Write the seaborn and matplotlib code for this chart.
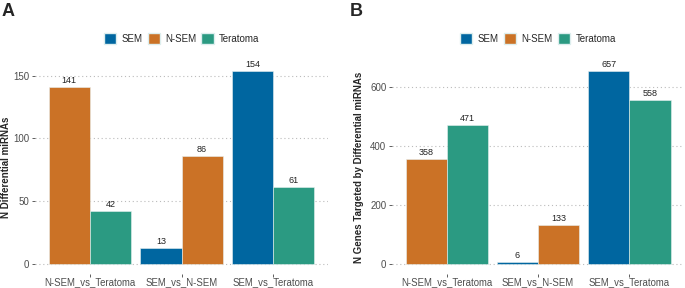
import pandas as pd
import numpy as np
import matplotlib
matplotlib.use("Agg")
import matplotlib.pyplot as plt
import seaborn as sns
from matplotlib.patches import Patch

# comparisons and the two cell types shown in each one
comparisons = ['N-SEM_vs_Teratoma', 'SEM_vs_N-SEM', 'SEM_vs_Teratoma']
cells_first = ['N-SEM', 'SEM', 'SEM']
cells_second = ['Teratoma', 'N-SEM', 'Teratoma']

# panel A: number of differential miRNAs
mirna_first = [141, 13, 154]
mirna_second = [42, 86, 61]

# panel B: number of genes targeted
genes_first = [358, 6, 657]
genes_second = [471, 133, 558]

cell_colors = {'SEM': '#0066A0', 'N-SEM': '#CB7226', 'Teratoma': '#2B9A82'}

sns.set_theme(style='white')
plt.rcParams['font.family'] = ['Liberation Sans', 'DejaVu Sans']


def make_df(first, second):
    rows = []
    for i, comp in enumerate(comparisons):
        rows.append({'comparison': comp, 'slot': 'a', 'cell': cells_first[i], 'value': first[i]})
        rows.append({'comparison': comp, 'slot': 'b', 'cell': cells_second[i], 'value': second[i]})
    return pd.DataFrame(rows)


def draw_panel(ax, df, ylabel, yticks, letter, letter_x, ylab_x):
    sns.barplot(data=df, x='comparison', y='value', hue='slot', order=comparisons,
                hue_order=['a', 'b'], width=0.9, dodge=True, errorbar=None,
                legend=False, ax=ax, zorder=3)
    # recolour each bar by its cell type
    for cont, slot in zip(ax.containers, ['a', 'b']):
        sub = df[df['slot'] == slot].set_index('comparison').loc[comparisons]
        for bar, cell in zip(cont, sub['cell']):
            bar.set_facecolor(cell_colors[cell])
            bar.set_edgecolor('#E8F0F0')
            bar.set_linewidth(0.4)
        ax.bar_label(cont, fontsize=6.5, color='#222222', padding=1.5)

    ymax = df['value'].max()
    ax.set_ylim(-0.05 * ymax, 1.05 * ymax)
    ax.set_xlim(-0.6, 2.6)
    ax.set_yticks(yticks)
    ax.yaxis.grid(True, linestyle=(0, (1, 2.5)), color='#BBBBBB', linewidth=0.8)
    ax.xaxis.grid(False)
    for s in ax.spines.values():
        s.set_visible(False)
    ax.tick_params(axis='both', which='major', length=2.5, width=0.6,
                   color='#444444', labelcolor='#4D4D4D', pad=1.5,
                   bottom=True, left=True)
    ax.tick_params(axis='y', labelsize=7)
    ax.tick_params(axis='x', labelsize=6.9, pad=0)
    ax.set_xlabel('')
    ax.set_ylabel(ylabel, fontsize=7, fontweight='bold')
    ax.yaxis.set_label_coords(ylab_x, 0.5)

    handles = [Patch(facecolor=cell_colors[c], edgecolor='#DDEEEE', label=c)
               for c in ['SEM', 'N-SEM', 'Teratoma']]
    ax.legend(handles=handles, loc='center', bbox_to_anchor=(0.5, 1.105),
              ncol=3, frameon=False, fontsize=7, handlelength=1.25,
              handleheight=1.3, columnspacing=0.55, handletextpad=0.55,
              borderaxespad=0, borderpad=0)
    ax.figure.text(letter_x, 0.988, letter, fontsize=13,
                   fontweight='bold', va='top', ha='left')


fig = plt.figure(figsize=(6.85, 2.88), dpi=100)
axA = fig.add_axes([0.051, 0.05, 0.428, 0.738])
axB = fig.add_axes([0.572, 0.05, 0.427, 0.738])

draw_panel(axA, make_df(mirna_first, mirna_second), 'N Differential miRNAs',
           [0, 50, 100, 150], 'A', 2 / 685, -0.08)
draw_panel(axB, make_df(genes_first, genes_second),
           'N Genes Targeted by Differential miRNAs', [0, 200, 400, 600], 'B',
           350 / 685, -0.095)

fig.savefig('out.png', dpi=100)
